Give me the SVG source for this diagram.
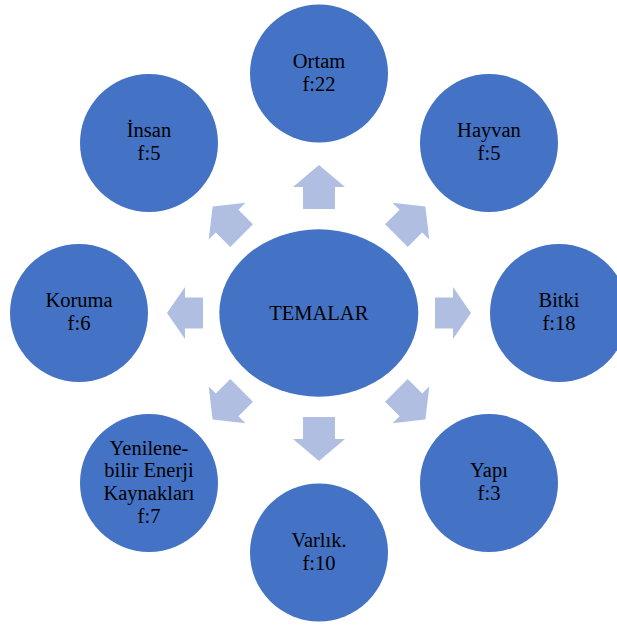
<svg xmlns="http://www.w3.org/2000/svg" xmlns:xlink="http://www.w3.org/1999/xlink" width="617" height="626" viewBox="0 0 617 626">
  <style>
    .node { fill: #4472C4; }
    .arrow { fill: #B0BFE1; }
    .label { font-family: "Liberation Serif", "Times New Roman", serif; font-size: 20.5px; fill: #000; text-anchor: middle; }
  </style>
  <defs>
    <!-- block arrows drawn pointing +x, centred on the origin -->
    <path id="arrowH" d="M -18,-15.5 H 0 V -26 L 18,0 L 0,26 V 15.5 H -18 Z"/>
    <path id="arrowV" d="M -22,-16 H 0 V -26 L 22,0 L 0,26 V 16 H -22 Z"/>
    <path id="arrowD" d="M -20.5,-16 H 0 V -26 L 20.5,0 L 0,26 V 16 H -20.5 Z"/>
  </defs>
  <rect width="617" height="626" fill="#ffffff"/>

  <g id="connectors" class="arrow">
    <use xlink:href="#arrowV" transform="translate(319,187) rotate(-90)"/>
    <use xlink:href="#arrowD" transform="translate(410.9,221.1) rotate(-45)"/>
    <use xlink:href="#arrowH" transform="translate(453,313)"/>
    <use xlink:href="#arrowD" transform="translate(410.9,404.9) rotate(45)"/>
    <use xlink:href="#arrowV" transform="translate(319,439) rotate(90)"/>
    <use xlink:href="#arrowD" transform="translate(227.1,404.9) rotate(135)"/>
    <use xlink:href="#arrowH" transform="translate(185,313) rotate(180)"/>
    <use xlink:href="#arrowD" transform="translate(227.1,221.1) rotate(-135)"/>
  </g>

  <g id="temalar">
    <ellipse class="node" cx="318.8" cy="313" rx="99.5" ry="83.7"/>
    <text class="label" x="318.8" y="320">TEMALAR</text>
  </g>

  <g id="ortam">
    <circle class="node" cx="319" cy="73.5" r="69"/>
    <text class="label" x="319" y="67.8">Ortam</text>
    <text class="label" x="319" y="90.5">f:22</text>
  </g>

  <g id="hayvan">
    <circle class="node" cx="489" cy="143" r="69"/>
    <text class="label" x="489" y="137.3">Hayvan</text>
    <text class="label" x="489" y="160">f:5</text>
  </g>

  <g id="bitki">
    <circle class="node" cx="559" cy="313" r="69"/>
    <text class="label" x="559" y="307.3">Bitki</text>
    <text class="label" x="559" y="330">f:18</text>
  </g>

  <g id="yapi">
    <circle class="node" cx="489" cy="483" r="69"/>
    <text class="label" x="489" y="477.3">Yapı</text>
    <text class="label" x="489" y="500">f:3</text>
  </g>

  <g id="varlik">
    <circle class="node" cx="319" cy="552.5" r="69"/>
    <text class="label" x="319" y="546.8">Varlık.</text>
    <text class="label" x="319" y="569.5">f:10</text>
  </g>

  <g id="yenilenebilir">
    <circle class="node" cx="149" cy="483" r="69"/>
    <text class="label" x="149" y="454.7">Yenilene-</text>
    <text class="label" x="149" y="477.3">bilir Enerji</text>
    <text class="label" x="149" y="500">Kaynakları</text>
    <text class="label" x="149" y="522.7">f:7</text>
  </g>

  <g id="koruma">
    <circle class="node" cx="79" cy="313" r="69"/>
    <text class="label" x="79" y="307.3">Koruma</text>
    <text class="label" x="79" y="330">f:6</text>
  </g>

  <g id="insan">
    <circle class="node" cx="149" cy="143" r="69"/>
    <text class="label" x="149" y="137.3">İnsan</text>
    <text class="label" x="149" y="160">f:5</text>
  </g>
</svg>
